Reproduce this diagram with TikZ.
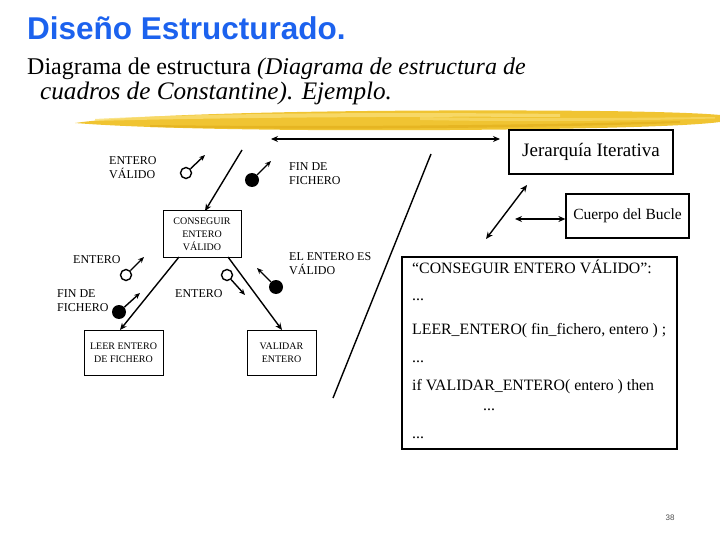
\documentclass[tikz,border=0pt]{standalone}
\usepackage{fontspec}
\setmainfont{Liberation Serif}
\newfontfamily\titlefont{Liberation Sans}
\usetikzlibrary{arrows.meta}
\definecolor{titleblue}{RGB}{28,98,238}
\definecolor{brushA}{RGB}{240,196,50}
\definecolor{brushB}{RGB}{249,222,115}
\definecolor{brushC}{RGB}{226,176,28}
\begin{document}
\begin{tikzpicture}[x=1pt,y=-1pt,
  box/.style={draw, line width=1pt, inner sep=0pt, align=center},
  smallbox/.style={box, font=\fontsize{10}{13}\selectfont},
  lbl/.style={anchor=base west, inner sep=0pt, align=left, font=\fontsize{12}{14}\selectfont},
  conn/.style={line width=1.4pt, -{Stealth[length=7pt,width=6pt]}},
  dconn/.style={line width=1.4pt, {Stealth[length=7pt,width=6pt]}-{Stealth[length=7pt,width=6pt]}},
  cpl/.style={line width=1.4pt, -{Stealth[length=6pt,width=5pt]}},
  opencpl/.style={circle, draw, line width=1.4pt, fill=white, minimum size=11pt, inner sep=0pt},
  fullcpl/.style={circle, fill=black, minimum size=14pt, inner sep=0pt},
  code/.style={anchor=base west, inner sep=0pt, font=\fontsize{15.8}{18}\selectfont}]
\useasboundingbox (0,0) rectangle (720,540);

% title
\node[anchor=base west, inner sep=0pt, font=\titlefont\bfseries\fontsize{31.5}{32}\selectfont, text=titleblue] (title) at (27,40) {Diseño Estructurado.};
\node[anchor=base west, inner sep=0pt, font=\fontsize{24}{26}\selectfont] (sub1) at (27,75) {Diagrama de estructura \textit{(Diagrama de estructura de}};
\node[anchor=base west, inner sep=0pt, font=\fontsize{25.2}{26}\selectfont] (sub2) at (40,100) {\textit{cuadros de Constantine). Ejemplo.}};

% brush stroke
\fill[brushA] (75,123) .. controls (150,112) and (400,109) .. (600,111) .. controls (680,112) and (710,114) .. (720,115) -- (720,122) .. controls (690,126) and (600,129) .. (450,130) .. controls (300,131) and (150,129) .. (75,123) -- cycle;
\fill[brushB, opacity=0.8] (95,119) .. controls (200,113) and (400,112) .. (560,114) -- (560,117) .. controls (400,116) and (200,118) .. (95,121) -- cycle;
\fill[brushC, opacity=0.7] (150,125) .. controls (300,127) and (500,126) .. (680,121) -- (680,123) .. controls (500,129) and (300,130) .. (150,127) -- cycle;
\fill[brushB, opacity=0.6] (420,117) .. controls (520,119) and (620,118) .. (715,117) -- (715,118.5) .. controls (620,121) and (520,122) .. (420,120) -- cycle;

% structure boxes
\node[smallbox, minimum width=78pt, minimum height=46pt] (cons) at (202,234) {CONSEGUIR\\ENTERO\\VÁLIDO};
\node[smallbox, minimum width=79pt, minimum height=45pt] (leer) at (123.5,352.5) {LEER ENTERO\\DE FICHERO};
\node[smallbox, minimum width=69pt, minimum height=45pt] (valid) at (281.5,352.5) {VALIDAR\\ENTERO};

\coordinate (topstart) at (242,150);
\coordinate (consTop) at (205,211);
\coordinate (consBL) at (179,257);
\coordinate (consBR) at (228,257);
\coordinate (leerTop) at (120,330);
\coordinate (validTop) at (282,330);
\draw[conn] (topstart) -- (consTop);
\draw[conn] (consBL) -- (leerTop);
\draw[conn] (consBR) -- (validTop);

% couples
\node[opencpl] (c1) at (186,173) {};
\coordinate (t1) at (205,155);
\draw[cpl] (c1) -- (t1);
\node[fullcpl] (c2) at (252,180) {};
\coordinate (t2) at (271,161);
\draw[cpl] (c2) -- (t2);
\node[opencpl] (c3) at (126,275) {};
\coordinate (t3) at (144,257);
\draw[cpl] (c3) -- (t3);
\node[fullcpl] (c4) at (119,312) {};
\coordinate (t4) at (140,293);
\draw[cpl] (c4) -- (t4);
\node[opencpl] (c5) at (227,275) {};
\coordinate (t5) at (245,295);
\draw[cpl] (c5) -- (t5);
\node[fullcpl] (c6) at (276,287) {};
\coordinate (t6) at (257,268);
\draw[cpl] (c6) -- (t6);

% couple labels (base = last line)
\node[lbl] (l1) at (109,179) {ENTERO\\VÁLIDO};
\node[lbl] (l2) at (289,185) {FIN DE\\FICHERO};
\node[lbl] (l3) at (73,263) {ENTERO};
\node[lbl, font=\fontsize{12}{13.5}\selectfont] (l4) at (57,311) {FIN DE\\FICHERO};
\node[lbl] (l5) at (175,297) {ENTERO};
\node[lbl, font=\fontsize{12}{13.5}\selectfont] (l6) at (289,274) {EL ENTERO ES\\VÁLIDO};

% annotation
\coordinate (hl) at (271,139);
\coordinate (hr) at (500,139);
\draw[dconn] (hl) -- (hr);
\node[box, line width=1.2pt, minimum width=164pt, minimum height=44pt, font=\fontsize{19}{20}\selectfont] (jer) at (591,152) {Jerarquía Iterativa};
\node[box, line width=1.2pt, minimum width=123pt, minimum height=44pt, font=\fontsize{15.5}{16}\selectfont] (cuerpo) at (627.5,216) {Cuerpo del Bucle};
\coordinate (dl) at (515,219);
\draw[dconn] (dl) -- (cuerpo.west |- dl);
\coordinate (da) at (486,239);
\coordinate (db) at (527,185);
\draw[dconn] (da) -- (db);
\coordinate (la) at (431,154);
\coordinate (lb) at (333,398);
\draw[line width=1.4pt] (la) -- (lb);

% code box
\node[draw, line width=1.6pt, minimum width=275pt, minimum height=192pt, inner sep=0pt] (codebox) at (539.5,353) {};
\node[code] (k1) at (412,273) {“CONSEGUIR ENTERO VÁLIDO”:};
\node[code] (k2) at (412,300) {...};
\node[code] (k3) at (412,334) {LEER\_ENTERO( fin\_fichero, entero ) ;};
\node[code] (k4) at (412,362) {...};
\node[code] (k5) at (412,390) {if VALIDAR\_ENTERO( entero ) then};
\node[code] (k6) at (483,410) {...};
\node[code] (k7) at (412,438) {...};

% page number
\node[anchor=base, inner sep=0pt, font=\titlefont\fontsize{8}{8}\selectfont, text=black!70] (pg) at (670,520) {38};
\end{tikzpicture}
\end{document}
